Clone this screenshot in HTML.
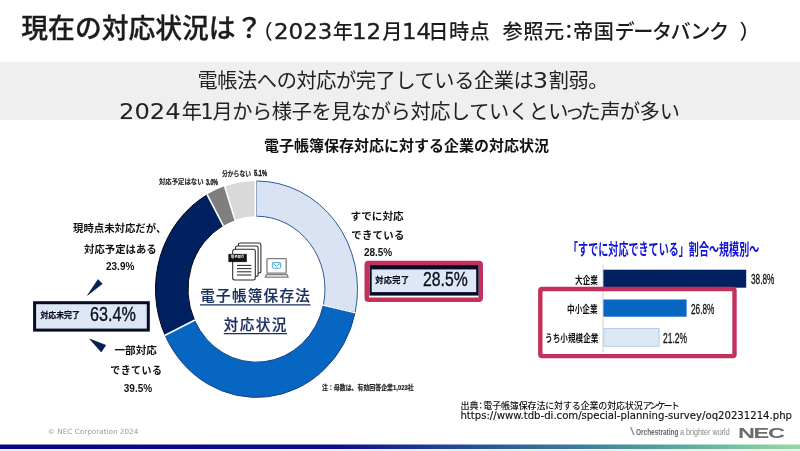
<!DOCTYPE html>
<html lang="ja">
<head>
<meta charset="utf-8">
<title>現在の対応状況は？</title>
<style>
html,body{margin:0;padding:0;background:#fff;}
body{width:800px;height:451px;position:relative;overflow:hidden;font-family:"Liberation Sans","Noto Sans CJK JP",sans-serif;color:#1a1a1a;}
.t{position:absolute;white-space:nowrap;line-height:1;transform-origin:0 0;}
.jp{font-family:"Liberation Sans","Noto Sans CJK JP",sans-serif;}
.dv{font-family:"DejaVu Sans","Liberation Sans",sans-serif;}
#band{position:absolute;left:0;top:62px;width:800px;height:58px;background:#efefef;}
svg{position:absolute;left:0;top:0;}
.b{font-weight:700;}
.sub{font-size:20.2px;font-weight:500;color:#1c1c1c;letter-spacing:-0.8px;}
.sub .dg{font-family:"DejaVu Sans","Liberation Sans",sans-serif;font-size:20.5px;letter-spacing:0;font-weight:400;-webkit-text-stroke:0.3px #1c1c1c;display:inline-block;transform:scaleX(1.12);transform-origin:0 50%;}
.bd{font-size:20.2px;color:#222;letter-spacing:-0.4px;}
.bd .dg{font-family:"DejaVu Sans","Liberation Sans",sans-serif;font-size:20.5px;letter-spacing:0;margin-left:1.5px;display:inline-block;transform:scaleX(1.15);transform-origin:0 50%;}
.halo{text-shadow:0 0 1px #fff,0 0 1px #fff,0 0 2px #fff;}
</style>
</head>
<body>
<div id="band"></div>

<!-- title -->
<div class="t jp" id="title" style="left:21.3px;top:16.2px;font-size:26.8px;font-weight:500;color:#1c1c1c;-webkit-text-stroke:0.3px #1c1c1c;">現在の対応状況は？</div>
<div class="t jp sub" id="sub0" style="left:252.5px;top:22.3px;">（</div>
<div class="t jp sub" id="sub1" style="left:274px;top:22.3px;"><span class="dg" style="margin-right:6.6px;">2023</span>年<span class="dg" style="margin-right:4px;">12</span>月<span class="dg" style="margin-right:0.6px;">14</span><span style="letter-spacing:0.4px;">日時点</span></div>
<div class="t jp sub" id="sub2" style="left:502.5px;top:22.3px;letter-spacing:0.5px;">参照元<span style="letter-spacing:0;margin:0 -5.85px;">：</span>帝国</div>
<div class="t jp sub" id="sub2b" style="left:614.5px;top:22.3px;letter-spacing:-1.5px;">データバンク</div>
<div class="t jp sub" id="sub3" style="left:739.5px;top:22.3px;">）</div>

<!-- band text -->
<div class="t jp bd" id="l1" style="left:197.5px;top:70.5px;">電帳法への対応が完了している企業は<span class="dg" style="margin-left:0;margin-right:2.4px;">3</span>割弱。</div>
<div class="t jp bd" id="l2" style="left:117.2px;top:101.8px;"><span class="dg" style="margin-right:10.8px;transform:scaleX(1.18);">2024</span>年<span class="dg" style="transform:none;margin:0 -1px 0 -1px;">1</span>月から様子を見ながら対応していくとい<span style="margin:0 -3.7px;">っ</span>た声が多い</div>

<!-- chart title -->
<div class="t jp b" id="ct" style="left:264px;top:138px;font-size:15px;color:#111;">電子帳簿保存対応に対する企業の対応状況</div>

<svg width="800" height="451" viewBox="0 0 800 451">
<defs>
<linearGradient id="fg" x1="0" x2="1" y1="0" y2="0">
<stop offset="0" stop-color="#06067e"/>
<stop offset="0.42" stop-color="#0a0f86"/>
<stop offset="0.62" stop-color="#2a5a9a"/>
<stop offset="0.82" stop-color="#4f9f9c"/>
<stop offset="1" stop-color="#93dca2"/>
</linearGradient>
</defs>
<!-- donut -->
<g id="donut">
<path d="M256.50,181.00 A101.0,108.2 0 0 1 355.07,312.80 L323.35,305.12 A68.5,73.0 0 0 0 256.50,216.20 Z" fill="#dae3f3" stroke="#2f5b96" stroke-width="1"/>
<path d="M355.07,312.80 A101.0,108.2 0 0 1 165.11,335.27 L194.52,320.28 A68.5,73.0 0 0 0 323.35,305.12 Z" fill="#0766c2" stroke="#163f80" stroke-width="1"/>
<path d="M165.11,335.27 A101.0,108.2 0 0 1 207.29,194.71 L223.12,225.45 A68.5,73.0 0 0 0 194.52,320.28 Z" fill="#002060" stroke="#000614" stroke-width="1"/>
<path d="M207.29,194.71 A101.0,108.2 0 0 1 224.69,186.51 L234.92,219.92 A68.5,73.0 0 0 0 223.12,225.45 Z" fill="#7f7f7f" stroke="#4a4a4a" stroke-width="0.5"/>
<path d="M224.69,186.51 A101.0,108.2 0 0 1 256.50,181.00 L256.50,216.20 A68.5,73.0 0 0 0 234.92,219.92 Z" fill="#d9d9d9"/>
<line x1="355.56" y1="312.91" x2="322.86" y2="305.02" stroke="#fff" stroke-width="1.4"/>
<line x1="164.66" y1="335.48" x2="194.97" y2="320.07" stroke="#fff" stroke-width="1.6"/>
<line x1="207.04" y1="194.28" x2="223.37" y2="225.89" stroke="#fff" stroke-width="1.6"/>
<line x1="224.53" y1="186.03" x2="235.08" y2="220.39" stroke="#fff" stroke-width="1.6"/>
<line x1="255.3" y1="180.50" x2="255.3" y2="216.70" stroke="#fff" stroke-width="1.6"/>
</g>
<!-- arrows -->
<polygon points="87.6,295.2 98,279.6 102.2,283.8" fill="#002060" stroke="#000a20" stroke-width="0.6"/>
<polygon points="89.8,339.1 105.7,345.2 101.2,351.9" fill="#002060" stroke="#000a20" stroke-width="0.6"/>
<!-- box 63.4 -->
<rect x="34.6" y="302.7" width="113.7" height="27.4" fill="#dce6f5" stroke="#070b26" stroke-width="3"/>
<!-- box 28.5 -->
<rect x="366.75" y="262.95" width="114" height="36.9" rx="1.8" ry="1.8" fill="#fff" stroke="#c3305b" stroke-width="4.5"/>
<rect x="369.4" y="265.1" width="109.2" height="30.5" fill="#070b26"/>
<rect x="371.7" y="269.4" width="104.5" height="22.7" fill="#dde7f5"/>
<!-- bar chart -->
<line x1="603" y1="264.5" x2="603" y2="352.5" stroke="#d0d0d0" stroke-width="1"/>
<rect x="603.4" y="269.7" width="142.8" height="18" fill="#002060"/>
<rect x="603.4" y="299.5" width="83.2" height="17.2" fill="#0766c2"/>
<rect x="603.9" y="328.5" width="55.2" height="17.8" fill="#dce8f6" stroke="#b7cdea" stroke-width="1"/>
<rect x="540.3" y="289" width="194.2" height="67.1" rx="1.6" ry="1.6" fill="none" stroke="#c3305b" stroke-width="4.4"/>
<!-- icons -->
<g id="docs" fill="#fff" stroke="#2a2a2a" stroke-width="1.05">
<rect x="238.3" y="243" width="22.6" height="30" rx="2"/>
<rect x="235.5" y="246" width="22.6" height="30.5" rx="2"/>
<rect x="232.7" y="249.3" width="22.6" height="30.6" rx="2"/>
<line x1="237" y1="265.4" x2="251.4" y2="265.4"/>
<line x1="237" y1="268.6" x2="251.4" y2="268.6"/>
<line x1="237" y1="271.8" x2="251.4" y2="271.8"/>
<line x1="237" y1="275" x2="251.4" y2="275"/>
<rect x="228.8" y="254.2" width="17.6" height="7.6" fill="#111" stroke="#111" stroke-width="0.6"/>
</g>
<g id="laptop" fill="none" stroke="#7d7d7d" stroke-width="1.3">
<rect x="267" y="258.6" width="19.2" height="14.6" rx="0.8"/>
<path d="M266.4,274.6 L287,274.6 L288,277.2 L265.3,277.2 Z"/>
<rect x="272.3" y="262.6" width="8.4" height="5.6" rx="1" stroke="#3a9bd5" stroke-width="0.9"/>
<path d="M272.6,263.2 L276.5,266.2 L280.4,263.2" stroke="#3a9bd5" stroke-width="0.9"/>
</g>
<!-- underlines -->
<line x1="200" y1="304.9" x2="310.5" y2="304.9" stroke="#1b2f5e" stroke-width="1.1"/>
<line x1="223.8" y1="333.6" x2="287" y2="333.6" stroke="#1b2f5e" stroke-width="1.1"/>
<!-- footer bar -->
<rect x="0" y="449" width="800" height="2" fill="#eeeeee"/>
<rect x="0" y="444.5" width="800" height="4.5" fill="url(#fg)"/>
</svg>

<!-- icon label -->
<div class="t jp b" id="il" style="left:230.8px;top:256.2px;font-size:3.4px;color:#fff;letter-spacing:0px;">電子取引</div>

<!-- donut centre -->
<div class="t jp" id="c1" style="left:200.2px;top:288.9px;font-size:14.6px;letter-spacing:1.25px;font-weight:500;color:#1b2f5e;-webkit-text-stroke:0.2px #1b2f5e;">電子帳簿保存法</div>
<div class="t jp" id="c2" style="left:223.8px;top:317.6px;font-size:14.6px;letter-spacing:1.4px;font-weight:500;color:#1b2f5e;-webkit-text-stroke:0.2px #1b2f5e;">対応状況</div>

<!-- tiny top labels -->
<div class="t jp b" id="s1" style="-webkit-text-stroke:0.15px #222;left:159.4px;top:178.3px;font-size:7px;color:#222;transform:scaleX(0.91);">対応予定はない</div>
<div class="t b" id="s1d" style="-webkit-text-stroke:0.45px #222;left:206px;top:177.6px;font-size:8.8px;color:#222;transform:scaleX(0.6);">3.0%</div>
<div class="t jp b" id="s2" style="-webkit-text-stroke:0.15px #222;left:222.4px;top:169.7px;font-size:7px;color:#222;transform:scaleX(0.83);">分からない</div>
<div class="t b" id="s2d" style="-webkit-text-stroke:0.45px #222;left:254.2px;top:169px;font-size:8.8px;color:#222;transform:scaleX(0.65);">5.1%</div>

<!-- left label -->
<div class="t jp b" id="a1" style="left:73px;top:224px;font-size:10.4px;color:#111;">現時点未対応だが、</div>
<div class="t jp b" id="a2" style="left:84px;top:245px;font-size:10.4px;color:#111;">対応予定はある</div>
<div class="t b" id="a3" style="left:106px;top:261.5px;font-size:10px;color:#111;">23.9%</div>

<!-- box 63.4 -->
<div class="t jp b halo" id="b1" style="-webkit-text-stroke:0.25px #070b26;left:40.4px;top:312.4px;font-size:7.9px;color:#070b26;">対応未完了</div>
<div class="t halo" id="b2" style="left:90.3px;top:305px;font-size:19.7px;color:#0a0f28;-webkit-text-stroke:0.45px #0a0f28;transform:scaleX(0.82);">63.4%</div>

<!-- lower-left label -->
<div class="t jp b" id="d1" style="left:114.5px;top:344.5px;font-size:10.6px;color:#111;">一部対応</div>
<div class="t jp b" id="d2" style="left:110.3px;top:365.8px;font-size:10px;letter-spacing:0.4px;color:#111;">できている</div>
<div class="t b" id="d3" style="left:123.8px;top:383.5px;font-size:10px;color:#111;">39.5%</div>

<!-- right label -->
<div class="t jp b" id="e1" style="left:350.5px;top:211px;font-size:10.6px;color:#111;">すでに対応</div>
<div class="t jp b" id="e2" style="left:351.2px;top:231px;font-size:10.4px;letter-spacing:0.3px;color:#111;">できている</div>
<div class="t b" id="e3" style="left:363.9px;top:248px;font-size:10px;color:#111;">28.5%</div>

<!-- box 28.5 -->
<div class="t jp b halo" id="f1" style="-webkit-text-stroke:0.25px #070b26;left:375.2px;top:277.3px;letter-spacing:0.4px;font-size:8.2px;color:#070b26;">対応完了</div>
<div class="t halo" id="f2" style="left:423px;top:269.5px;font-size:19.7px;color:#0a0f28;-webkit-text-stroke:0.45px #0a0f28;transform:scaleX(0.8);">28.5%</div>

<!-- bar chart text -->
<div class="t jp b" id="g0" style="left:568px;top:241.7px;font-size:16px;color:#1414d6;transform:scaleX(0.629);">「すでに対応できている」割合～規模別～</div>
<div class="t jp b" id="g1" style="left:574.7px;top:275.1px;font-size:10.6px;color:#111;transform:scaleX(0.72);">大企業</div>
<div class="t jp b" id="g2" style="left:567.3px;top:304.2px;font-size:10.6px;color:#111;transform:scaleX(0.72);">中小企業</div>
<div class="t jp b" id="g3" style="left:545.1px;top:332.8px;font-size:10.6px;color:#111;transform:scaleX(0.72);">うち小規模企業</div>
<div class="t" id="h1" style="-webkit-text-stroke:0.3px #111;left:750.6px;top:272.3px;font-size:14.1px;color:#111;transform:scaleX(0.585);">38.8%</div>
<div class="t" id="h2" style="-webkit-text-stroke:0.3px #111;left:690.8px;top:302px;font-size:14.1px;color:#111;transform:scaleX(0.585);">26.8%</div>
<div class="t" id="h3" style="-webkit-text-stroke:0.3px #111;left:663.2px;top:330.6px;font-size:14.1px;color:#111;transform:scaleX(0.6);">21.2%</div>

<!-- note -->
<div class="t jp b" id="n1" style="-webkit-text-stroke:0.2px #222;left:322px;top:384px;font-size:7.4px;color:#222;transform:scaleX(0.80);">注：母数は、有効回答企業1,023社</div>

<!-- source -->
<div class="t jp" id="src1" style="left:460.6px;top:402.2px;font-size:9px;font-weight:500;color:#111;letter-spacing:-0.15px;">出典<span style="letter-spacing:0;margin:0 -2px;">：</span>電子帳簿保存法に対する企業の対応状況<span style="letter-spacing:-1.9px;">アンケート</span></div>
<div class="t dv" id="src2" style="-webkit-text-stroke:0.15px #111;left:460.4px;top:411px;font-size:10.12px;color:#111;">https://www.tdb-di.com/special-planning-survey/oq20231214.php</div>

<!-- footer -->
<div class="t dv" id="cp" style="left:47.8px;top:428.3px;font-size:7.25px;color:#9a9a9a;">© NEC Corporation 2024</div>
<div class="t" id="or0" style="left:630.4px;top:426.2px;font-size:11.5px;color:#858585;transform:scaleX(1.45);">\</div>
<div class="t b" id="or1" style="left:636px;top:428.1px;font-size:8.3px;color:#666;transform:scaleX(0.78);">Orchestrating</div>
<div class="t" id="or2" style="left:680px;top:428.1px;font-size:8.3px;color:#858585;transform:scaleX(0.868);">a brighter world</div>
<div class="t b" id="nec" style="left:737.6px;top:425.4px;font-size:15.2px;color:#6c6c6c;transform:scaleX(1.55);letter-spacing:-0.9px;">NEC</div>
</body>
</html>
